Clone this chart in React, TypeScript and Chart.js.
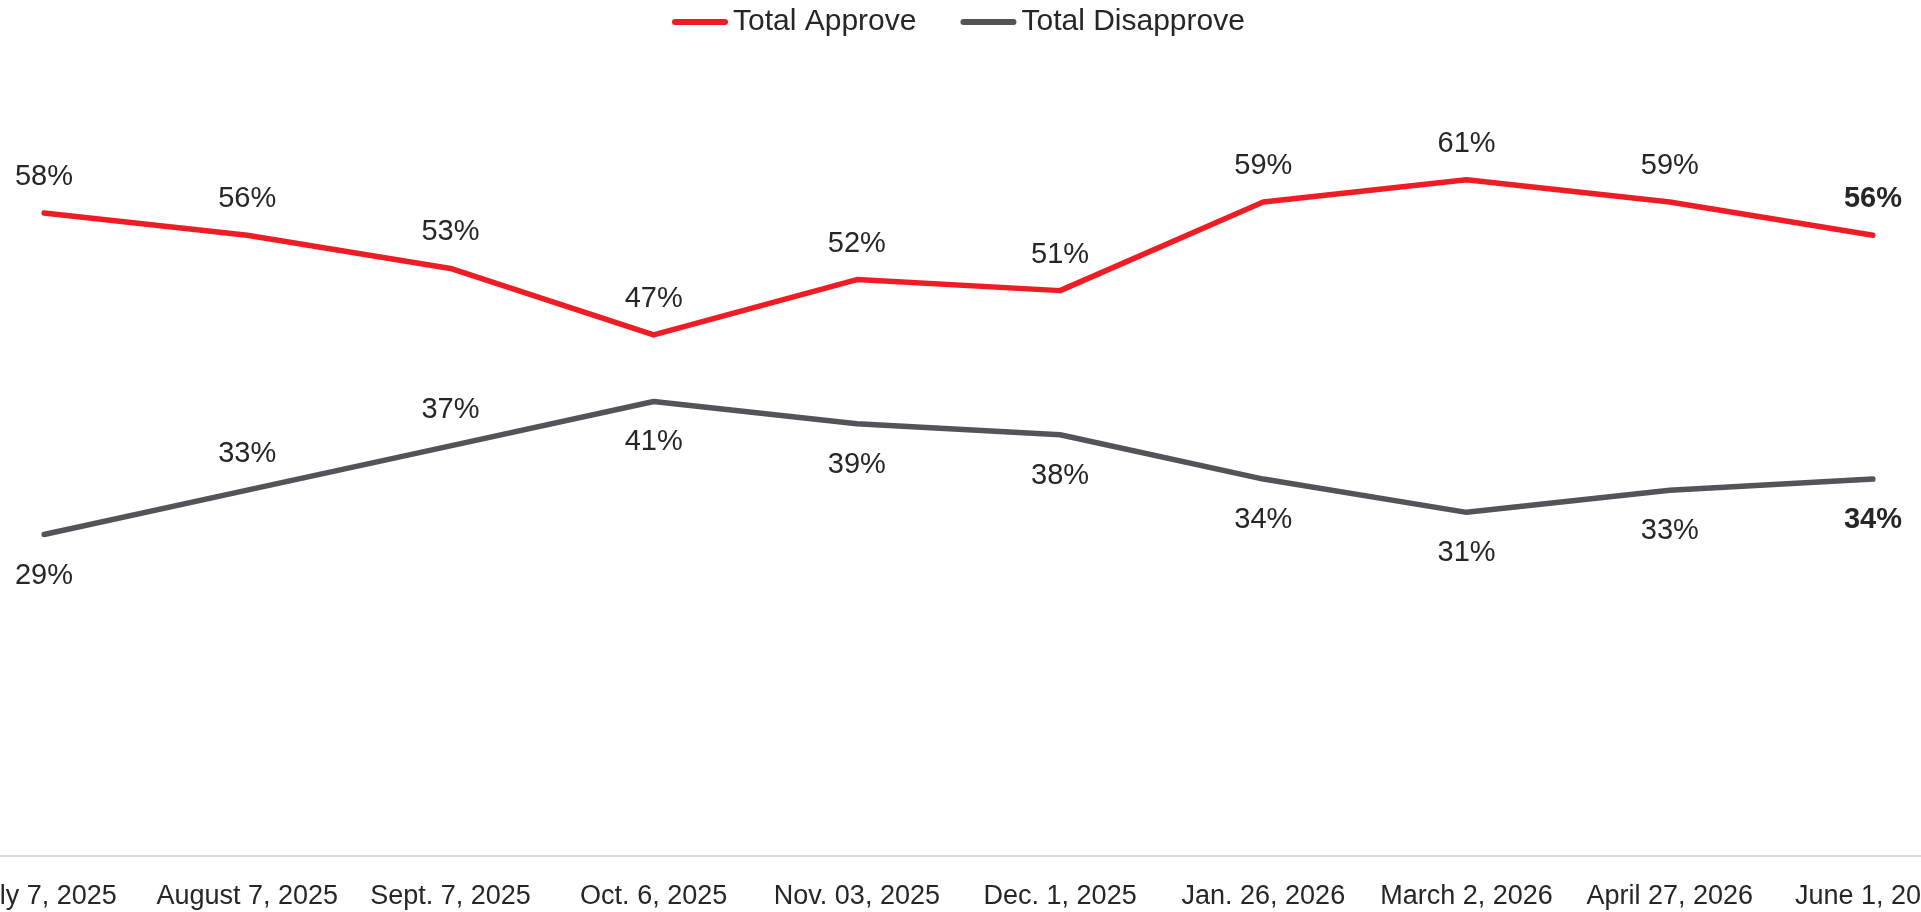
import React, { useEffect, useRef } from 'react';
import { Chart, registerables } from 'chart.js';

Chart.register(...registerables);

const categories = [
  'July 7, 2025',
  'August 7, 2025',
  'Sept. 7, 2025',
  'Oct. 6, 2025',
  'Nov. 03, 2025',
  'Dec. 1, 2025',
  'Jan. 26, 2026',
  'March 2, 2026',
  'April 27, 2026',
  'June 1, 2026',
];
const totalApprove = [58, 56, 53, 47, 52, 51, 59, 61, 59, 56];
const totalDisapprove = [29, 33, 37, 41, 39, 38, 34, 31, 33, 34];
const seriesNames = ['Total Approve', 'Total Disapprove'];
const approveLabelSide = ['above', 'above', 'above', 'above', 'above', 'above', 'above', 'above', 'above', 'above'];
const disapproveLabelSide = ['below', 'above', 'above', 'below', 'below', 'below', 'below', 'below', 'below', 'below'];

const RED = '#EE1C25';
const GRAY = '#535359';
const TEXT = '#262626';
const FONT = "'Liberation Sans', Arial, sans-serif";

const dataLabelPlugin = {
  id: 'pointLabels',
  afterDatasetsDraw(chart: any) {
    const ctx = chart.ctx;
    chart.data.datasets.forEach((ds: any, di: number) => {
      const meta = chart.getDatasetMeta(di);
      meta.data.forEach((pt: any, i: number) => {
        const last = i === meta.data.length - 1;
        ctx.save();
        ctx.font = `${last ? 'bold ' : ''}29px ${FONT}`;
        ctx.fillStyle = TEXT;
        ctx.textAlign = 'center';
        ctx.textBaseline = 'middle';
        const dy = ds.labelSides[i] === 'above' ? -36 : 41;
        ctx.fillText(`${ds.data[i]}%`, pt.x, pt.y + dy);
        ctx.restore();
      });
    });
  },
};

const axisLinePlugin = {
  id: 'fullAxisLine',
  beforeDatasetsDraw(chart: any) {
    const ctx = chart.ctx;
    const y = Math.round(chart.chartArea.bottom);
    ctx.save();
    ctx.strokeStyle = '#D9D9D9';
    ctx.lineWidth = 2;
    ctx.beginPath();
    ctx.moveTo(0, y);
    ctx.lineTo(chart.width, y);
    ctx.stroke();
    ctx.restore();
  },
};

const legendPlugin = {
  id: 'customLegend',
  afterDraw(chart: any) {
    const ctx = chart.ctx;
    ctx.save();
    ctx.font = `30px ${FONT}`;
    ctx.textBaseline = 'middle';
    ctx.textAlign = 'left';
    let x = 672;
    const y = 22;
    chart.data.datasets.forEach((ds: any) => {
      ctx.strokeStyle = ds.borderColor;
      ctx.lineWidth = 6;
      ctx.lineCap = 'round';
      ctx.beginPath();
      ctx.moveTo(x + 3, y);
      ctx.lineTo(x + 53, y);
      ctx.stroke();
      ctx.fillStyle = TEXT;
      ctx.fillText(ds.label, x + 61, y);
      x += 61 + ctx.measureText(ds.label).width + 44;
    });
    ctx.restore();
  },
};

export default function App() {
  const ref = useRef<HTMLCanvasElement>(null);
  useEffect(() => {
    if (!ref.current) return;
    const chart = new Chart(ref.current, {
      type: 'line',
      data: {
        labels: categories,
        datasets: [
          {
            label: seriesNames[0],
            data: totalApprove,
            borderColor: RED,
            backgroundColor: RED,
            labelSides: approveLabelSide,
          } as any,
          {
            label: seriesNames[1],
            data: totalDisapprove,
            borderColor: GRAY,
            backgroundColor: GRAY,
            labelSides: disapproveLabelSide,
          } as any,
        ],
      },
      options: {
        responsive: true,
        maintainAspectRatio: false,
        animation: false,
        layout: { padding: { left: 44, right: 48, top: 80, bottom: 0 } },
        plugins: { legend: { display: false }, tooltip: { enabled: false } },
        elements: {
          point: { radius: 0, hoverRadius: 0 },
          line: { tension: 0, borderWidth: 5.5, borderCapStyle: 'round', borderJoinStyle: 'round' },
        },
        scales: {
          x: {
            grid: { display: false, drawTicks: false },
            border: { display: false },
            ticks: {
              font: { family: FONT, size: 27 },
              color: TEXT,
              padding: 24,
              maxRotation: 0,
              minRotation: 0,
              autoSkip: false,
            },
            afterFit(scale: any) {
              scale.paddingLeft = 0;
              scale.paddingRight = 0;
              scale.height = 56;
            },
          },
          y: { display: false, min: 0, max: 70 },
        },
      },
      plugins: [axisLinePlugin, dataLabelPlugin, legendPlugin],
    });
    return () => chart.destroy();
  }, []);
  return (
    <div style={{ position: 'fixed', left: 0, top: 0, width: '100vw', height: '100vh' }}>
      <canvas ref={ref} />
    </div>
  );
}
